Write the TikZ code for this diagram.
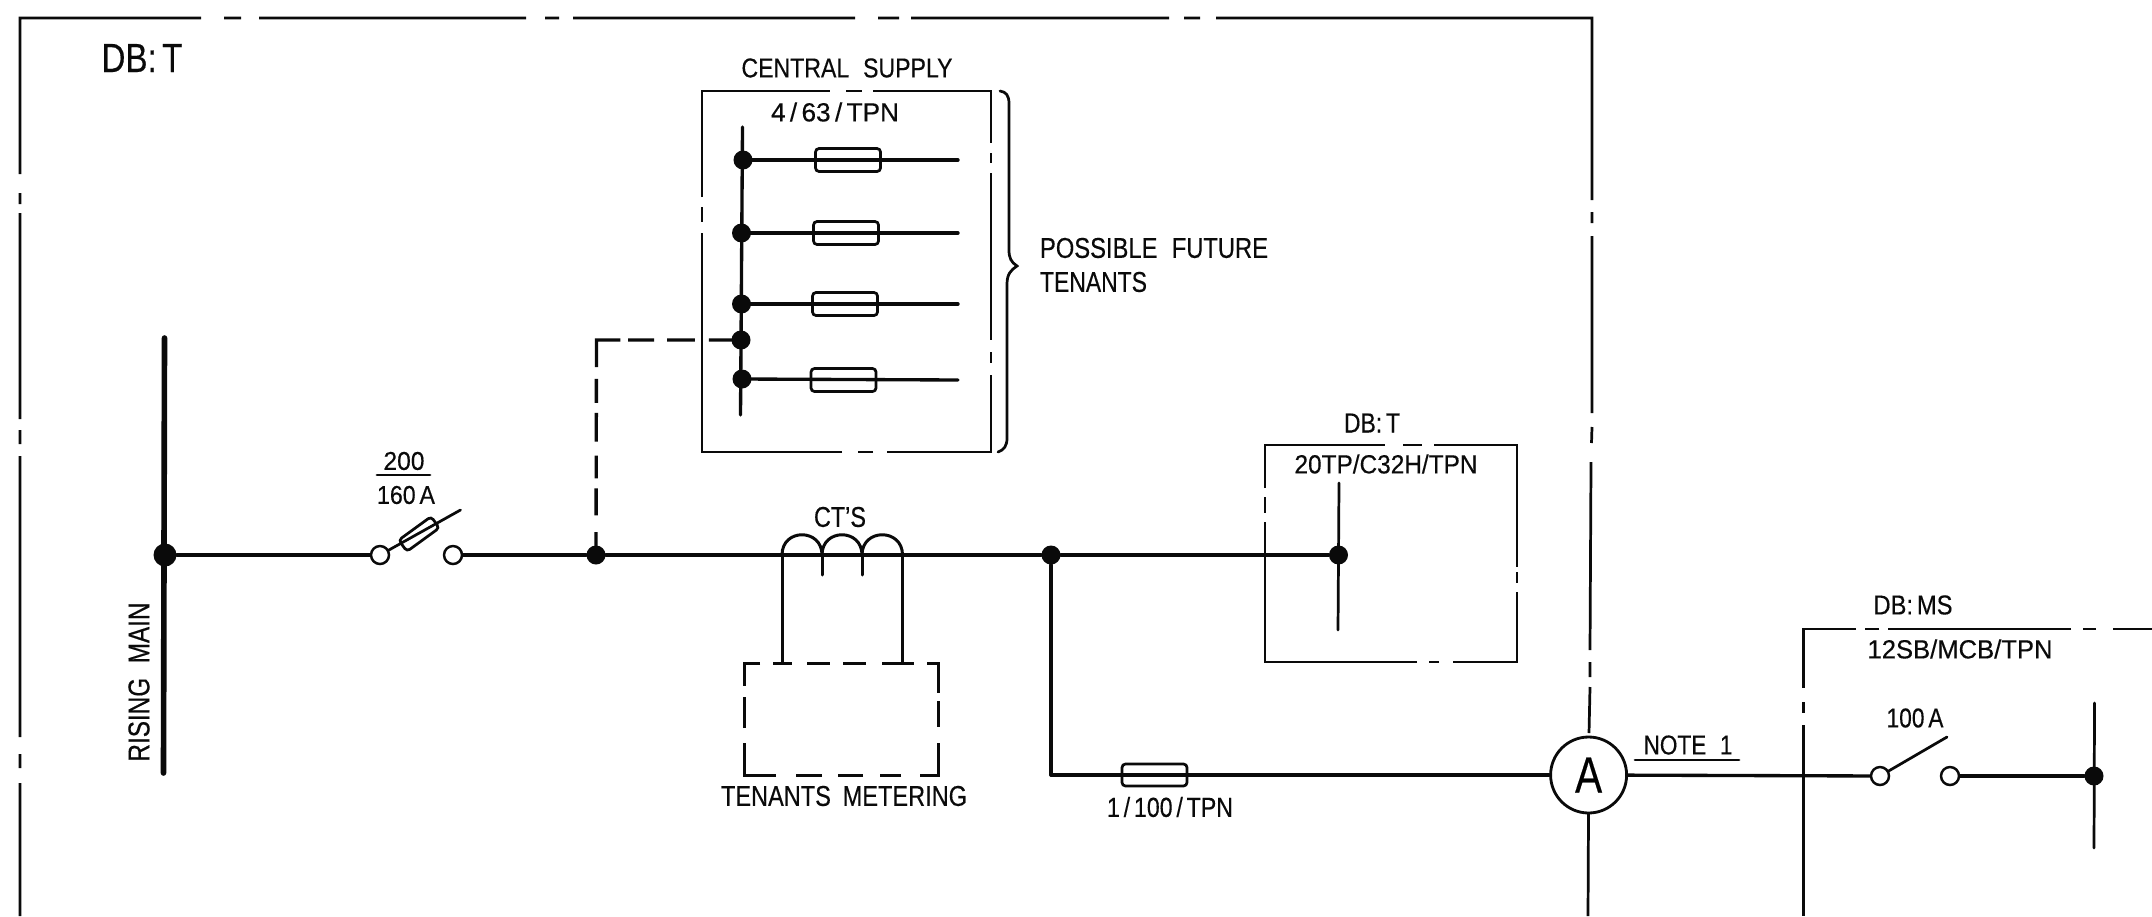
\documentclass[tikz,border=0pt]{standalone}
\usepackage{fontspec}
\usepackage{graphicx}
\setmainfont{Liberation Sans}[FakeBold=0.35]
\newlength\pxl
\pxl=0.02cm
\newcommand\fit[3]{\resizebox{#1\pxl}{#2\pxl}{#3}}
\tikzset{
  lab/.style={inner sep=0pt,outer sep=0pt,text=ink},
  frameline/.style={draw=ink,line width=1.55pt,line cap=butt},
  wire/.style={draw=ink,line width=1.9pt,line cap=round},
  thinwire/.style={draw=ink,line width=1.55pt,line cap=round},
  mainbar/.style={draw=ink,line width=3.2pt,line cap=round},
  jdot/.style={circle,fill=ink,draw=none,inner sep=0pt,minimum size=19*\pxl},
  jdotbig/.style={circle,fill=ink,draw=none,inner sep=0pt,minimum size=23*\pxl},
  termin/.style={circle,fill=white,draw=ink,line width=1.4pt,inner sep=0pt,minimum size=18*\pxl},
  fusebox/.style={rectangle,draw=ink,line width=1.55pt,rounded corners=2pt,inner sep=0pt,minimum width=65*\pxl,minimum height=22*\pxl},
  meter/.style={circle,draw=ink,fill=white,line width=1.6pt,inner sep=0pt,minimum size=76*\pxl},
}
\definecolor{ink}{RGB}{10,10,10}
\begin{document}
\begin{tikzpicture}[x=0.02cm,y=-0.02cm]
\useasboundingbox (0,0) rectangle (2152,916);
\fill[white] (0,0) rectangle (2152,916);

% ---- outer DB:T frame (chain line, as printed)
\draw[frameline]
  (20,174)--(20,18)--(201,18) (224,18)--(241,18) (259,18)--(526,18) (545,18)--(559,18)
  (573,18)--(855,18) (878,18)--(899,18) (911,18)--(1169,18) (1184,18)--(1200,18)
  (1216,18)--(1592,18)--(1592,200) (1592,212)--(1592,223) (1592,236)--(1592,413)
  (1592,427)--(1591.5,443) (1591,462)--(1590,650) (1590,662)--(1590,677) (1590,687)--(1589,733)
  (1588.5,812)--(1588,916)
  (20,193)--(20,204) (20,213)--(20,419) (20,430)--(20,444) (20,456)--(20,737)
  (20,754)--(20,768) (20,783)--(20,916);

% ---- central supply box
\draw[frameline]
  (702,197)--(702,91)--(830,91) (846,91)--(862,91) (873,91)--(991,91)--(991,143)
  (991,153)--(991,163) (991,173)--(991,340) (991,352)--(991,363) (991,375)--(991,452)--(887,452)
  (873,452)--(858,452) (842,452)--(702,452)--(702,233) (702,207)--(702,222);

% ---- DB:T inner box
\draw[frameline]
  (1265,488)--(1265,445)--(1385,445) (1403,445)--(1422,445) (1434,445)--(1517,445)--(1517,567)
  (1517,572)--(1517,583) (1517,592)--(1517,662)--(1453,662) (1439,662)--(1429,662)
  (1417,662)--(1265,662)--(1265,522) (1265,497)--(1265,513);

% ---- DB:MS box
\draw[frameline]
  (2152,629)--(2113,629) (2096,629)--(2083,629) (2071,629)--(1888,629) (1879,629)--(1865,629)
  (1856,629)--(1803.5,629)--(1803.5,688) (1803.5,702)--(1803.5,713) (1803.5,725)--(1803.5,916);

% ---- tenants metering box
\draw[frameline,line width=1.7pt]
  (760,663)--(744,663)--(744,686) (773,663)--(792,663) (807,663)--(830,663) (843,663)--(866,663)
  (882,663)--(914,663) (927,663)--(938,663)--(938,693) (938,701)--(938,727) (938,743)--(938,775)--(920,775)
  (901,775)--(880,775) (863,775)--(838,775) (822,775)--(796,775) (776,775)--(744,775)--(744,743)
  (744,728)--(744,697);

% ---- nodes: junctions
\coordinate (rmT) at (164.5,338);
\coordinate (rmB) at (163.5,773);
\node[jdotbig] (J0) at (165,555) {};
\node[jdot] (J1) at (596,555) {};
\node[jdot] (J2) at (1051,555) {};
\node[jdot] (J3) at (1338.5,555) {};
\node[jdot] (J4) at (2094,776) {};
\node[jdot] (B1) at (743,160) {};
\node[jdot] (B2) at (741.5,233) {};
\node[jdot] (B3) at (741.5,304) {};
\node[jdot] (B4) at (741,340) {};
\node[jdot] (B5) at (742,379) {};

% ---- nodes: switches
\node[termin] (SaL) at (380,555) {};
\node[termin] (SaR) at (453,555) {};
\coordinate (SaTip) at (460.5,510);
\node[termin] (SbL) at (1880,776) {};
\node[termin] (SbR) at (1950,776) {};
\coordinate (SbTip) at (1947,737);

% ---- nodes: fuses
\node[fusebox,minimum width=40*\pxl,minimum height=14*\pxl,rotate=36] (Fa) at (419,534) {};
\node[fusebox,minimum height=23*\pxl] (F1) at (848,160) {};
\node[fusebox,minimum height=23*\pxl] (F2) at (846,233) {};
\node[fusebox,minimum height=23*\pxl] (F3) at (845,304) {};
\node[fusebox,minimum height=23*\pxl] (F4) at (843.5,380) {};
\node[fusebox,minimum height=22*\pxl] (F5) at (1154.5,775) {};
\coordinate (E1) at (958,160);
\coordinate (E2) at (958,233);
\coordinate (E3) at (958,304);
\coordinate (E4) at (958,380);

% ---- ammeter
\node[meter] (AM) at (1588.6,775) {\fit{27}{35}{A}};

% ---- wires
\draw[mainbar] (rmT) -- (rmB);
\draw[wire] (J0) -- (SaL);
\draw[wire] (SaR) -- (J1);
\draw[wire] (J1) -- (J2);
\draw[wire] (J2) -- (J3);
\coordinate (Lc) at (1051,775);
\draw[wire] (J2) -- (Lc);
\draw[wire] (Lc) -- (AM);
\draw[wire] (AM) -- (SbL);
\draw[wire] (SbR) -- (J4);

% switch blades
\draw[thinwire] (SaL) -- (SaTip);
\draw[thinwire] (SbL) -- (SbTip);

% central supply bus and branches
\coordinate (BusT) at (742.5,127);
\coordinate (BusB) at (740.5,415);
\draw[wire] (BusT) -- (BusB);
\draw[wire] (B1.center) -- (E1);
\draw[wire] (B2.center) -- (E2);
\draw[wire] (B3.center) -- (E3);
\draw[wire] (B5.center) -- (E4);

% dashed feed to central supply
\coordinate (Dc) at (596.5,340);
\draw[draw=ink,line width=1.9pt,line cap=butt,
  dash pattern=on 13pt off 9.6pt on 15.3pt off 5.7pt on 13pt off 7.9pt on 16.4pt off 5.7pt on 13.6pt off 6.8pt on 28.9pt off 4.5pt on 14.7pt off 7.4pt on 15.9pt off 7.9pt on 40pt off 10pt]
  (J1.center) -- (Dc) -- (B4.center);

% DB:T bus
\coordinate (TbT) at (1339,483);
\coordinate (TbB) at (1338,630);
\draw[thinwire] (TbT) -- (TbB);

% DB:MS bus
\coordinate (MbT) at (2094.5,703);
\coordinate (MbB) at (2094,848);
\draw[thinwire] (MbT) -- (MbB);

% current transformers
\coordinate (Ca) at (782,555);
\coordinate (Cb) at (822,555);
\coordinate (Cc) at (862,555);
\coordinate (Cd) at (902.5,555);
\coordinate (CaB) at (782,663);
\coordinate (CbB) at (822,575);
\coordinate (CcB) at (862,575);
\coordinate (CdB) at (902.5,663);
\draw[wire,line width=1.7pt]
  (Ca) .. controls (782,528) and (822,528) .. (Cb)
       .. controls (822,528) and (862,528) .. (Cc)
       .. controls (862,528) and (902.5,528) .. (Cd);
\draw[wire,line width=1.7pt] (Ca) -- (CaB);
\draw[wire,line width=1.7pt] (Cb) -- (CbB);
\draw[wire,line width=1.7pt] (Cc) -- (CcB);
\draw[wire,line width=1.7pt] (Cd) -- (CdB);

% brace
\coordinate (BrT) at (1000,91);
\coordinate (BrM) at (1017,266);
\coordinate (BrB) at (998,452);
\draw[thinwire]
  (BrT) .. controls (1006,92) and (1009,95) .. (1009,104)
  -- (1009,250) .. controls (1009,258) and (1011,262) .. (BrM)
  .. controls (1011,270) and (1007,274) .. (1007,284)
  -- (1007,438) .. controls (1007,446) and (1004,450) .. (BrB);

% ---- underlines
\coordinate (Ua) at (377,475);
\coordinate (Ub) at (430,475);
\draw[thinwire] (Ua) -- (Ub);
\coordinate (Uc) at (1635,760);
\coordinate (Ud) at (1739,760);
\draw[thinwire] (Uc) -- (Ud);

% ---- labels
\node[lab] (t1) at (142,58) {\fit{81}{28}{DB:\,T}};
\node[lab] (t2) at (847,68) {\fit{211}{19}{CENTRAL\hspace{0.6em}SUPPLY}};
\node[lab] (t3) at (835,112) {\fit{128}{19}{4\,/\,63\,/\,TPN}};
\node[lab] (t4) at (1154,248) {\fit{228}{20}{POSSIBLE\hspace{0.6em}FUTURE}};
\node[lab] (t5) at (1093.5,282) {\fit{107}{20}{TENANTS}};
\node[lab] (t6) at (404,461) {\fit{41}{18}{200}};
\node[lab] (t7) at (406,495) {\fit{58}{18}{160\,A}};
\node[lab,rotate=90] (t8) at (139,682) {\fit{159}{21}{RISING\hspace{0.6em}MAIN}};
\node[lab] (t9) at (840,517) {\fit{52}{20}{CT'S}};
\node[lab] (t10) at (844,796) {\fit{246}{20}{TENANTS\hspace{0.5em}METERING}};
\node[lab] (t11) at (1170,807) {\fit{126}{20}{1\,/\,100\,/\,TPN}};
\node[lab] (t12) at (1372,423) {\fit{56}{19}{DB:\,T}};
\node[lab] (t13) at (1386,464) {\fit{183}{19}{20TP/C32H/TPN}};
\node[lab] (t14) at (1688,745) {\fit{89}{19}{NOTE\hspace{0.6em}1}};
\node[lab] (t15) at (1913,605) {\fit{79}{19}{DB:\,MS}};
\node[lab] (t16) at (1960,649) {\fit{185}{19}{12SB/MCB/TPN}};
\node[lab] (t17) at (1915,718) {\fit{57}{19}{100\,A}};
\end{tikzpicture}
\end{document}
